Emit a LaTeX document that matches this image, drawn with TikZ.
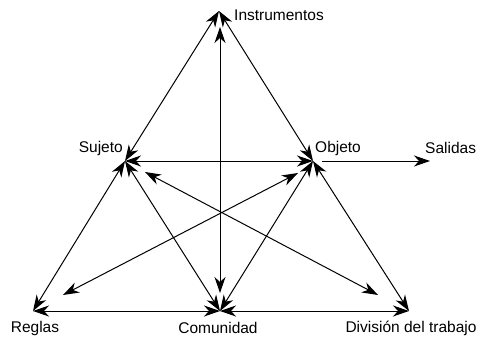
\documentclass[tikz,border=0pt]{standalone}
\usepackage{fontspec}
\setmainfont{Liberation Sans}
\usetikzlibrary{arrows.meta}
\begin{document}
\begin{tikzpicture}[x=1pt,y=-1pt,
  conn/.style={line width=1pt, {Stealth[length=16pt,width=11pt,inset=5pt]}-{Stealth[length=16pt,width=11pt,inset=5pt]}},
  oneway/.style={line width=1pt, -{Stealth[length=16pt,width=11pt,inset=5pt]}},
  lbl/.style={inner sep=0pt, font=\fontsize{15.5}{18}\selectfont}]
\useasboundingbox (0,0) rectangle (482,337);
% points
\coordinate (I) at (219,11);
\coordinate (S) at (125,161);
\coordinate (O) at (313,161);
\coordinate (R) at (33,311);
\coordinate (C) at (220,311);
\coordinate (D) at (409,311);
\coordinate (Itop) at (220,27);
\coordinate (Cbot) at (220,293);
\coordinate (Oout) at (322,161);
\coordinate (Sal) at (430,161);
\coordinate (Sd) at (145,172);
\coordinate (Dd) at (378,295);
\coordinate (Od) at (298,173);
\coordinate (Rd) at (63,295);
% labels
\node[lbl, anchor=west] (lI) at (234,15) {Instrumentos};
\node[lbl, anchor=east] (lS) at (123,148) {Sujeto};
\node[lbl, anchor=west] (lO) at (315,148) {Objeto};
\node[lbl, anchor=west] (lSal) at (425,148) {Salidas};
\node[lbl] (lR) at (35,328) {Reglas};
\node[lbl] (lC) at (218,328) {Comunidad};
\node[lbl] (lD) at (411,328) {División del trabajo};
% connectors
\draw[conn] (I) -- (S);
\draw[conn] (I) -- (O);
\draw[conn] (Itop) -- (Cbot);
\draw[conn] (S) -- (O);
\draw[oneway] (Oout) -- (Sal);
\draw[conn] (S) -- (R);
\draw[conn] (S) -- (C);
\draw[conn] (O) -- (C);
\draw[conn] (O) -- (D);
\draw[conn] (R) -- (C);
\draw[conn] (C) -- (D);
\draw[conn] (Sd) -- (Dd);
\draw[conn] (Od) -- (Rd);
\end{tikzpicture}
\end{document}
